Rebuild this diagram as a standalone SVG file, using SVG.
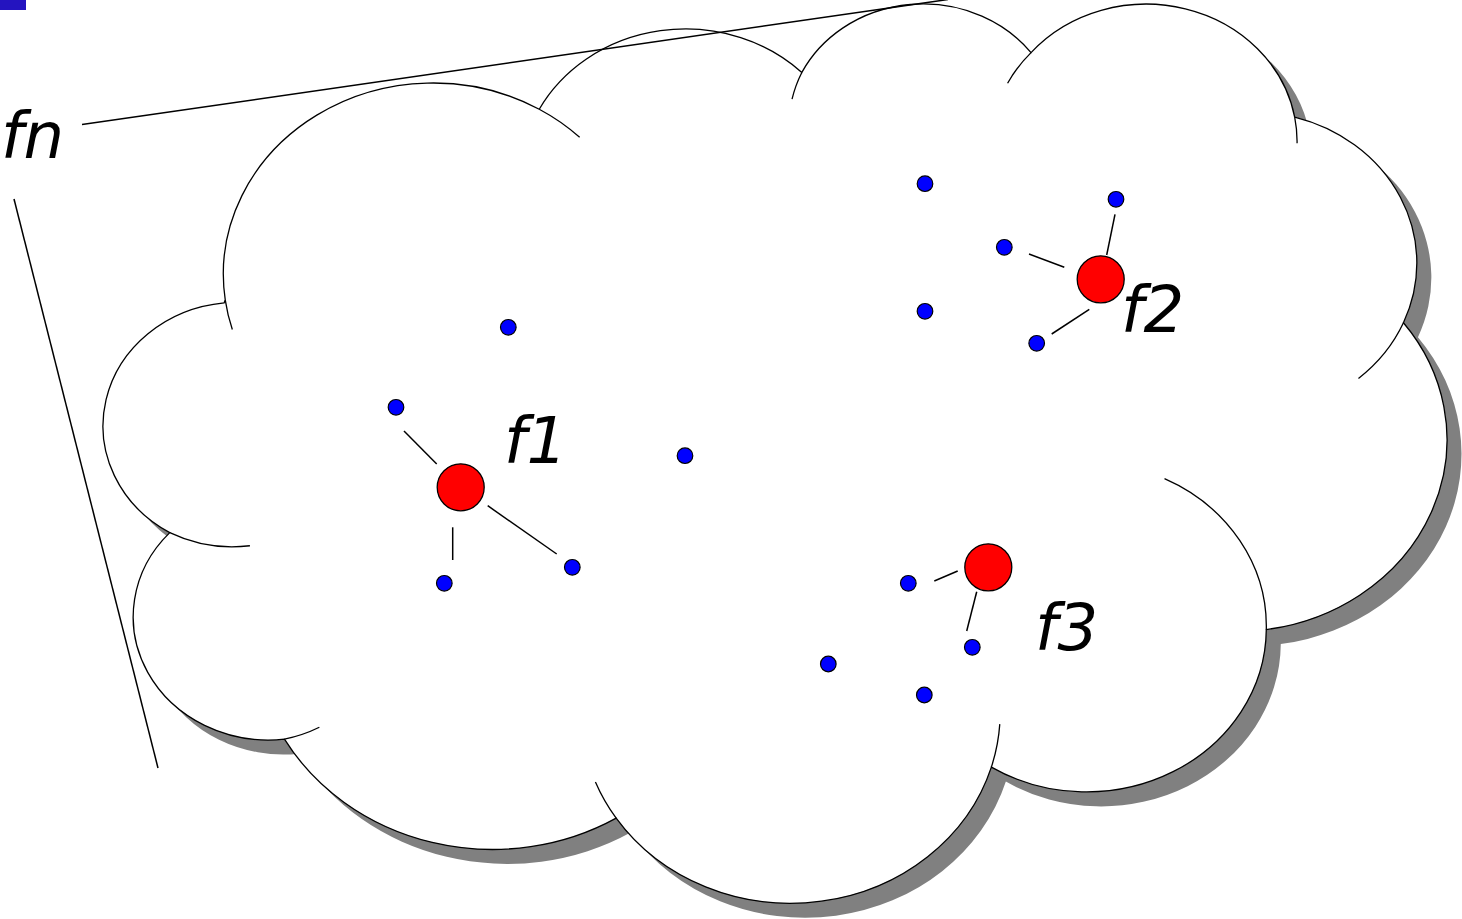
<svg xmlns="http://www.w3.org/2000/svg" width="1462" height="919" viewBox="0 0 1462 919">
<defs>
<path id="cloudPath" vector-effect="non-scaling-stroke" d="M3900 14370 A6753 9190 0 0 1 14005.3 5202.1 A5333 7267 0 0 1 22456.2 3432.2 A4365 5945 0 0 1 29833.1 2480.9 A4857 6595 0 0 1 38318.2 5576 A5333 7273 0 0 1 41818.5 15459.6 A6775 9220 0 0 1 37404.5 30202.9 A5785 7867 0 0 1 28556.2 36813.1 A6752 9215 0 0 1 16480.6 39264.1 A7720 10543 0 0 1 5805.1 35470.1 A4360 5918 0 0 1 2113.7 25548.2 A4345 5945 0 0 1 3863.7 14504.6 Z"/>
</defs>
<style>
.shadow{fill:#808080;stroke:none}
.outline{fill:#ffffff;stroke:#000000;stroke-width:1.3}
.inner{fill:none;stroke:#000000;stroke-width:1.3}
.dot{fill:#0000ff;stroke:#000000;stroke-width:1.2}
.hub{fill:#ff0000;stroke:#000000;stroke-width:1.3}
.lbl{font-family:"DejaVu Sans",Verdana,sans-serif;font-style:italic;font-size:64px;fill:#000000}
#connectors line{stroke:#000000;stroke-width:1.5;fill:none}
</style>
<rect id="corner-mark" x="0" y="0" width="26" height="10" fill="#2414c0"/>
<g id="cloud">
<use href="#cloudPath" class="shadow" transform="translate(118.6,15.5) scale(0.031071,0.02081)"/>
<g transform="translate(104.1,1.0) scale(0.031071,0.02081)">
<use href="#cloudPath" class="outline"/>
<path class="inner" vector-effect="non-scaling-stroke" d="M4693 26177 A4345 5945 0 0 1 2113.7 25548.2 M6928 34899 A4360 5918 0 0 1 5805.1 35470.1 M16480.6 39264.1 A6752 9215 0 0 1 15813.1 37524.7 M28827 34751 A6752 9215 0 0 1 28556.2 36813.1 M34129 22954 A5785 7867 0 0 1 37404.5 30202.9 M41818.5 15459.6 A5333 7273 0 0 1 40370.7 18135.2 M38318.2 5576 A4857 6595 0 0 1 38394.7 6839.7 M29078 3952 A4857 6595 0 0 1 29833.1 2480.9 M22141 4720 A4365 5945 0 0 1 22456.2 3432.2 M14005.3 5202.1 A6753 9190 0 0 1 15304.9 6550.1 M4127 15789 A6753 9190 0 0 1 3900 14370"/>
</g>
</g>
<g id="connectors">
<line x1="82" y1="124.5" x2="948" y2="-0.5"/>
<line x1="14" y1="199" x2="158" y2="768"/>
<line x1="404" y1="431" x2="436.7" y2="464"/>
<line x1="452.7" y1="527.3" x2="452.7" y2="560"/>
<line x1="487.7" y1="505.7" x2="556.7" y2="554"/>
<line x1="1115" y1="214.3" x2="1106.7" y2="255"/>
<line x1="1029" y1="254" x2="1064.3" y2="267.3"/>
<line x1="1089.3" y1="309.3" x2="1051.7" y2="334"/>
<line x1="934.3" y1="581" x2="957.7" y2="571"/>
<line x1="976.7" y1="591.7" x2="966.7" y2="631"/>
</g>
<g id="hub-f1"><circle class="hub" cx="460.7" cy="487.3" r="23.5"/></g>
<g id="hub-f2"><circle class="hub" cx="1100.7" cy="279.3" r="23.5"/></g>
<g id="hub-f3"><circle class="hub" cx="988.3" cy="567.3" r="23.5"/></g>
<g id="dot-1"><circle class="dot" cx="508.3" cy="327.3" r="7.8"/></g>
<g id="dot-2"><circle class="dot" cx="396" cy="407.3" r="7.8"/></g>
<g id="dot-3"><circle class="dot" cx="444.3" cy="583.3" r="7.8"/></g>
<g id="dot-4"><circle class="dot" cx="572.3" cy="567.3" r="7.8"/></g>
<g id="dot-5"><circle class="dot" cx="685" cy="455.7" r="7.8"/></g>
<g id="dot-6"><circle class="dot" cx="925" cy="183.7" r="7.8"/></g>
<g id="dot-7"><circle class="dot" cx="925" cy="311.3" r="7.8"/></g>
<g id="dot-8"><circle class="dot" cx="1004.3" cy="247.3" r="7.8"/></g>
<g id="dot-9"><circle class="dot" cx="1116" cy="199.3" r="7.8"/></g>
<g id="dot-10"><circle class="dot" cx="1036.7" cy="343.3" r="7.8"/></g>
<g id="dot-11"><circle class="dot" cx="908.3" cy="583.3" r="7.8"/></g>
<g id="dot-12"><circle class="dot" cx="972.3" cy="647.3" r="7.8"/></g>
<g id="dot-13"><circle class="dot" cx="828.3" cy="664" r="7.8"/></g>
<g id="dot-14"><circle class="dot" cx="924.3" cy="695" r="7.8"/></g>
<g id="label-fn"><text class="lbl" x="1" y="158">fn</text></g>
<g id="label-f1"><text class="lbl" x="504" y="463">f1</text></g>
<g id="label-f2"><text class="lbl" x="1121" y="332">f2</text></g>
<g id="label-f3"><text class="lbl" x="1035" y="650">f3</text></g>
</svg>
